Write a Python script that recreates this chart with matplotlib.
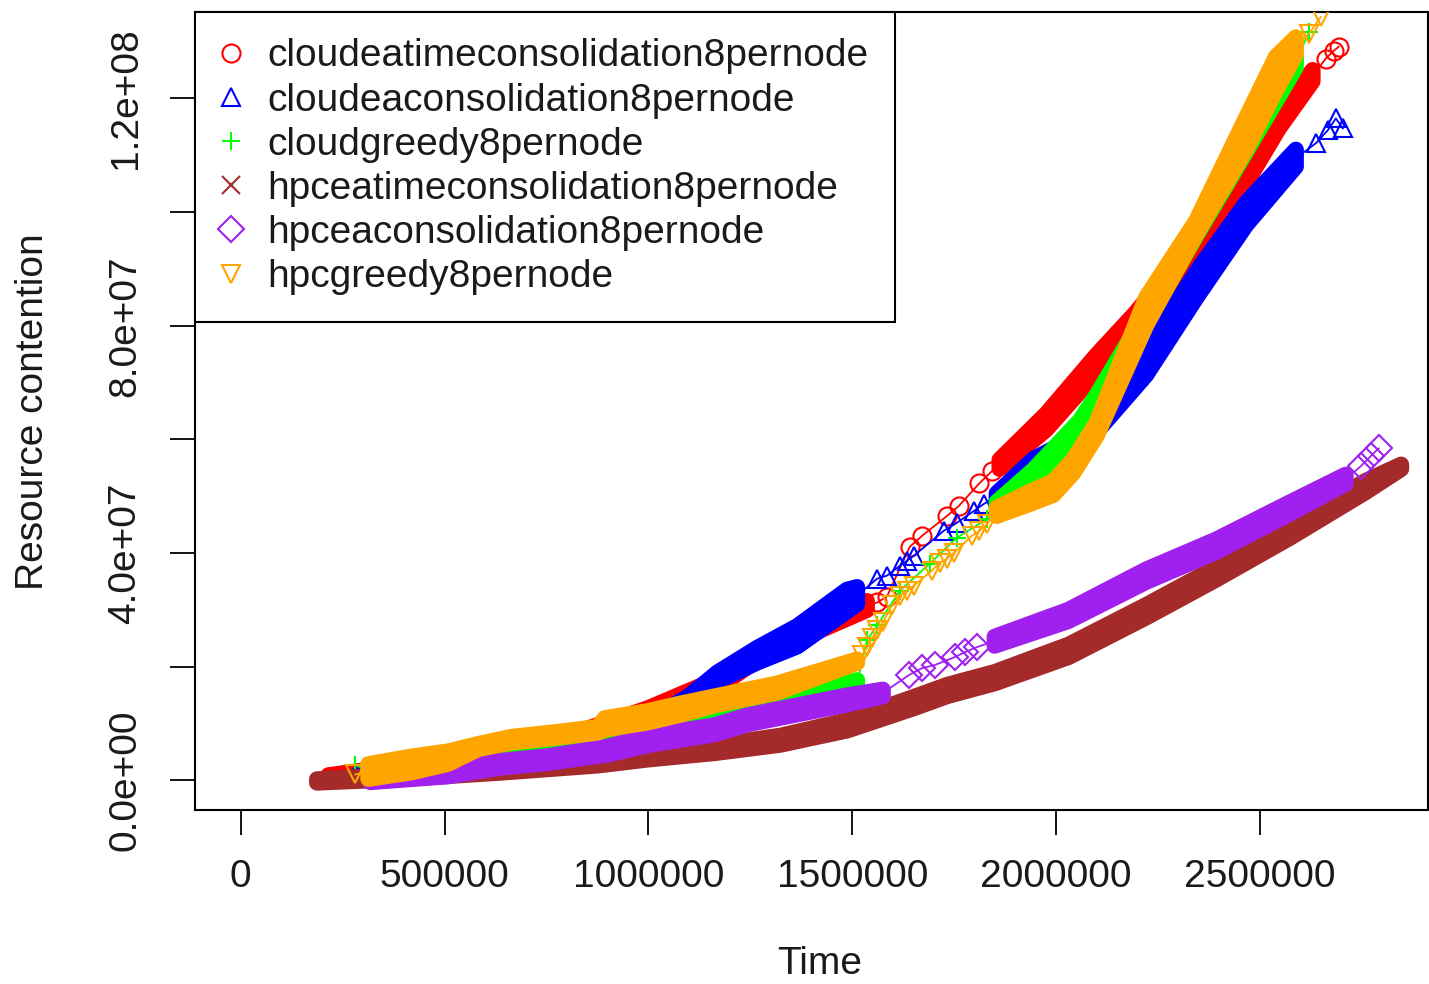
import numpy as np
import matplotlib
matplotlib.use("Agg")
import matplotlib.pyplot as plt
from matplotlib.lines import Line2D

plt.rcParams['font.family'] = ['Liberation Sans', 'DejaVu Sans']

# ---------------- data (x in thousands, y in millions) ----------------
# spread = half-width of the dense point cloud (millions); nan = isolated points
N = np.nan
series_names = ['cloudeatimeconsolidation8pernode', 'cloudeaconsolidation8pernode',
                'cloudgreedy8pernode', 'hpceatimeconsolidation8pernode',
                'hpceaconsolidation8pernode', 'hpcgreedy8pernode']
series_colors = ['#FF0000', '#0000FF', '#00FF00', '#A52A2A', '#A020F0', '#FFA500']
series_markers = ['o', '^', '+', 'x', 'D', 'v']

red_x = [215, 509, 753, 998, 1162, 1291, 1438, 1536,
         1561, 1585, 1641, 1671, 1732, 1761, 1812, 1842,
         1861, 1976, 2099, 2194, 2263, 2343, 2466, 2546, 2629,
         2661, 2681, 2693]
red_y = [0.52, 3.32, 6.30, 11.89, 16.79, 23.26, 27.81, 30.78,
         31.31, 32.36, 41.10, 43.03, 46.52, 48.27, 52.30, 54.39,
         55.62, 63.14, 73.28, 80.45, 86.75, 94.62, 106.34, 115.96, 124.0,
         126.98, 128.38, 129.08]
red_s = [0.4, 0.5, 0.5, 0.8, 0.9, 0.9, 0.9, 0.8,
         N, N, N, N, N, N, N, N,
         0.8, 1.4, 1.6, 1.8, 1.5, 1.3, 1.3, 1.3, 1.0,
         N, N, N]

blue_x = [289, 509, 753, 893, 998, 1096, 1169, 1267, 1365, 1487, 1512,
          1561, 1585, 1617, 1634, 1651, 1724, 1756, 1798, 1822,
          1854, 1945, 2025, 2099, 2221, 2343, 2466, 2588,
          2637, 2666, 2686, 2703]
blue_y = [0.87, 2.80, 5.07, 7.52, 10.32, 14.17, 18.19, 22.04, 25.36, 31.66, 32.53,
          35.50, 36.03, 37.78, 38.65, 39.53, 43.90, 45.30, 47.40, 48.62,
          50.02, 55.79, 58.77, 62.26, 73.63, 87.10, 99.69, 109.49,
          112.11, 114.38, 116.48, 114.73]
blue_s = [0.3, 0.5, 0.5, 0.5, 0.5, 0.5, 0.8, 1.3, 1.8, 1.9, 1.5,
          N, N, N, N, N, N, N, N, N,
          0.5, 0.8, 0.8, 1.0, 2.3, 2.3, 2.0, 1.5,
          N, N, N, N]

green_x = [281, 313, 509, 753, 998, 1169, 1365, 1512,
           1536, 1561, 1617, 1690, 1756, 1830,
           1854, 1945, 2057, 2099, 2221, 2343, 2466, 2588,
           2620]
green_y = [2.80, 1.57, 3.32, 5.77, 8.92, 11.19, 14.17, 17.14,
           24.66, 27.28, 33.41, 38.13, 42.68, 46.0,
           48.27, 53.52, 62.26, 66.99, 81.50, 96.72, 111.59, 126.45,
           131.70]
green_s = [N, 0.5, 0.6, 0.6, 0.6, 0.6, 0.6, 0.5,
           N, N, N, N, N, N,
           0.7, 1.2, 1.0, 0.8, 1.0, 1.0, 1.0, 1.0,
           N]

brown_x = [186, 386, 631, 876, 998, 1162, 1323, 1487, 1651, 1732, 1849,
           2030, 2221, 2392, 2573, 2757, 2845]
brown_y = [0.0, 0.70, 1.92, 3.32, 4.37, 5.60, 7.17, 9.79, 13.82, 15.92, 18.19,
           22.91, 29.91, 36.55, 43.90, 51.77, 55.27]
brown_s = [0.3, 0.4, 0.5, 0.6, 0.6, 0.7, 0.8, 0.9, 1.0, 1.0, 1.0,
           1.1, 1.1, 1.1, 1.1, 1.0, 0.4]

purple_x = [318, 509, 631, 753, 900, 998, 1162, 1243, 1487, 1575,
            1639, 1671, 1702, 1751, 1776, 1805,
            1849, 2030, 2221, 2392, 2573, 2710,
            2747, 2771, 2791]
purple_y = [0.0, 1.22, 2.80, 3.67, 5.25, 7.0, 8.92, 10.67, 14.17, 15.39,
            18.54, 19.76, 20.29, 21.69, 22.56, 23.44,
            24.49, 29.03, 36.03, 41.28, 47.92, 53.0,
            55.27, 57.02, 58.42]
purple_s = [0.3, 0.5, 0.6, 0.6, 0.7, 0.8, 0.8, 0.8, 0.8, 0.6,
            N, N, N, N, N, N,
            0.8, 1.0, 1.1, 1.1, 1.0, 0.8,
            N, N, N]

orange_x = [281, 313, 418, 509, 582, 663, 778, 876, 893, 998, 1071, 1162, 1316, 1512,
            1524, 1536, 1548, 1561, 1575, 1597, 1617, 1634, 1651, 1695, 1715, 1732,
            1749, 1793, 1812, 1830,
            1854, 1940, 1993, 2042, 2099, 2221, 2343, 2466, 2539, 2588,
            2620, 2649]
orange_y = [1.05, 1.57, 2.80, 4.02, 5.95, 7.17, 8.05, 8.92, 9.97, 11.19, 12.42, 13.99, 16.27, 20.99,
            22.04, 23.44, 25.01, 26.41, 27.81, 30.78, 32.53, 33.41, 34.28, 36.90, 38.30, 39.00,
            40.05, 43.03, 43.90, 45.12,
            47.22, 49.85, 51.42, 55.27, 61.74, 82.55, 97.24, 113.86, 124.35, 129.25,
            131.35, 134.32]
orange_s = [N, 1.3, 1.4, 1.1, 0.45, 0.5, 0.5, 0.5, 1.0, 1.0, 1.0, 0.8, 0.8, 0.3,
            N, N, N, N, N, N, N, N, N, N, N, N,
            N, N, N, N,
            0.7, 1.1, 1.2, 1.2, 1.2, 2.5, 1.2, 2.8, 3.0, 1.5,
            N, N]

xticks = [0, 500000, 1000000, 1500000, 2000000, 2500000]
yticks = [0, 2e7, 4e7, 6e7, 8e7, 1e8, 1.2e8]
ytick_labels = ['0.0e+00', '', '4.0e+07', '', '8.0e+07', '', '1.2e+08']

all_series = [(red_x, red_y, red_s), (blue_x, blue_y, blue_s),
              (green_x, green_y, green_s), (brown_x, brown_y, brown_s),
              (purple_x, purple_y, purple_s), (orange_x, orange_y, orange_s)]

# ---------------- figure ----------------
W, H = 1429, 984
fig = plt.figure(figsize=(W / 100, H / 100), dpi=100)
ax = fig.add_axes([195 / W, 1 - 810 / H, (1428 - 195) / W, (810 - 12) / H])

MS = 13
FS = 28
for i, (xs, ys, ss) in enumerate(all_series):
    c = series_colors[i]
    m = series_markers[i]
    x = np.array(xs, float) * 1e3
    y = np.array(ys, float) * 1e6
    s = np.array(ss, float) * 1e6
    dense = ~np.isnan(s)
    z = 2 + i
    ax.plot(x, y, color=c, lw=1.3, zorder=z)
    lo = np.where(dense, y - np.nan_to_num(s), y)
    hi = np.where(dense, y + np.nan_to_num(s), y)
    ax.fill_between(x, lo, hi, where=dense, facecolor=c, edgecolor=c,
                    linewidth=11.5, joinstyle='round', zorder=z)
    ax.plot(x[~dense], y[~dense], linestyle='none', marker=m, ms=MS,
            mfc='none', mec=c, mew=1.5, zorder=z)

ax.set_xlim(-112000, 2912000)
ax.set_ylim(-5.2e6, 1.352e8)
ax.set_xticks(xticks)
ax.set_xticklabels([str(t) for t in xticks])
ax.set_yticks(yticks)
ax.set_yticklabels(ytick_labels, rotation=90, va='center')
for sp in ax.spines.values():
    sp.set_linewidth(1.5)
ax.tick_params(axis='both', which='major', length=18, width=1.3,
               labelsize=FS, color='black', labelcolor='#1a1a1a')
ax.tick_params(axis='x', pad=17)
ax.tick_params(axis='y', pad=19)

fig.text(33 / W, 1 - 412 / H, 'Resource contention', rotation=90,
         ha='center', va='center', fontsize=FS, color='#1a1a1a')
fig.text(820 / W, 1 - 964 / H, 'Time', ha='center', va='center',
         fontsize=FS, color='#1a1a1a')

handles = [Line2D([], [], linestyle='none', marker=series_markers[i], ms=MS,
                  mfc='none', mec=series_colors[i], mew=1.5)
           for i in range(6)]
leg = ax.legend(handles, series_names, loc='upper left', bbox_to_anchor=(0, 1),
                borderaxespad=0, fontsize=FS, frameon=True, fancybox=False,
                edgecolor='black', framealpha=1, handlelength=0.5,
                handletextpad=0.67, labelspacing=0.21, borderpad=0.68)
leg.get_frame().set_linewidth(1.5)
for t in leg.get_texts():
    t.set_color('#1a1a1a')
leg.set_zorder(20)

fig.savefig('out.png', dpi=100)
